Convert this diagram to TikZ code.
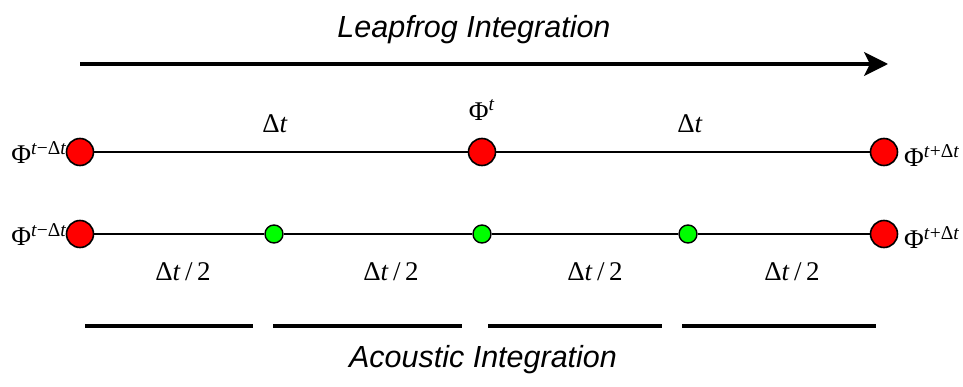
\documentclass[tikz,border=0pt]{standalone}
\usepackage{fontspec}
\setmainfont{Liberation Serif}
\newfontfamily\arialfont{Liberation Sans}
\usetikzlibrary{arrows.meta}
\definecolor{myred}{RGB}{255,0,0}
\definecolor{mygreen}{RGB}{0,255,0}
\tikzset{
  bigdot/.style={circle,draw=black,line width=1.6pt,fill=myred,minimum size=27pt,inner sep=0pt},
  smalldot/.style={circle,draw=black,line width=1.4pt,fill=mygreen,minimum size=18pt,inner sep=0pt},
  tline/.style={line width=1.7pt},
  bar/.style={line width=3.4pt},
  title/.style={font=\arialfont\itshape\fontsize{30.5}{34}\selectfont},
  lab/.style={font=\fontsize{27}{30}\selectfont,inner sep=0pt},
}
\newcommand{\Phisup}[1]{Φ\textsuperscript{\fontsize{19.5}{21}\selectfont #1}}
\begin{document}
\begin{tikzpicture}[x=1pt,y=-1pt]
\useasboundingbox (0,0) rectangle (963,387);
\node[title] (t1) at (474,30) {Leapfrog Integration};
\coordinate (a1) at (80,64);
\coordinate (a2) at (888,64);
\draw[line width=3.2pt,-{Stealth[length=24pt,width=24pt,inset=6pt]}] (a1) -- (a2);
% row 1
\node[bigdot] (p1) at (80,152) {};
\node[bigdot] (p2) at (482,152) {};
\node[bigdot] (p3) at (884,152) {};
\draw[tline] (p1) -- (p2);
\draw[tline] (p2) -- (p3);
\node[lab,anchor=east] (l1) at (67,153) {\Phisup{\textit{t}−Δ\textit{t}}};
\node[lab,anchor=west] (r1) at (904,156) {\Phisup{\textit{t}+Δ\textit{t}}};
\node[lab] (m1) at (482,110) {\Phisup{\textit{t}}};
\node[lab] (d1) at (275,124) {Δ\textit{t}};
\node[lab] (d2) at (690,124) {Δ\textit{t}};
% row 2
\node[bigdot] (q1) at (80,234) {};
\node[smalldot] (g1) at (274,234) {};
\node[smalldot] (g2) at (482,234) {};
\node[smalldot] (g3) at (688,234) {};
\node[bigdot] (q2) at (884,234) {};
\draw[tline] (q1) -- (g1);
\draw[tline] (g1) -- (g2);
\draw[tline] (g2) -- (g3);
\draw[tline] (g3) -- (q2);
\node[lab,anchor=east] (l2) at (67,235) {\Phisup{\textit{t}−Δ\textit{t}}};
\node[lab,anchor=west] (r2) at (904,238) {\Phisup{\textit{t}+Δ\textit{t}}};
\node[lab] (h1) at (183,272) {Δ\textit{t}\,/\,2};
\node[lab] (h2) at (391,272) {Δ\textit{t}\,/\,2};
\node[lab] (h3) at (595,272) {Δ\textit{t}\,/\,2};
\node[lab] (h4) at (792,272) {Δ\textit{t}\,/\,2};
% bars
\coordinate (b1s) at (85,326); \coordinate (b1e) at (253,326);
\coordinate (b2s) at (273,326); \coordinate (b2e) at (462,326);
\coordinate (b3s) at (488,326); \coordinate (b3e) at (662,326);
\coordinate (b4s) at (682,326); \coordinate (b4e) at (876,326);
\draw[bar] (b1s) -- (b1e);
\draw[bar] (b2s) -- (b2e);
\draw[bar] (b3s) -- (b3e);
\draw[bar] (b4s) -- (b4e);
\node[title] (t2) at (483,360) {Acoustic Integration};
\end{tikzpicture}
\end{document}
